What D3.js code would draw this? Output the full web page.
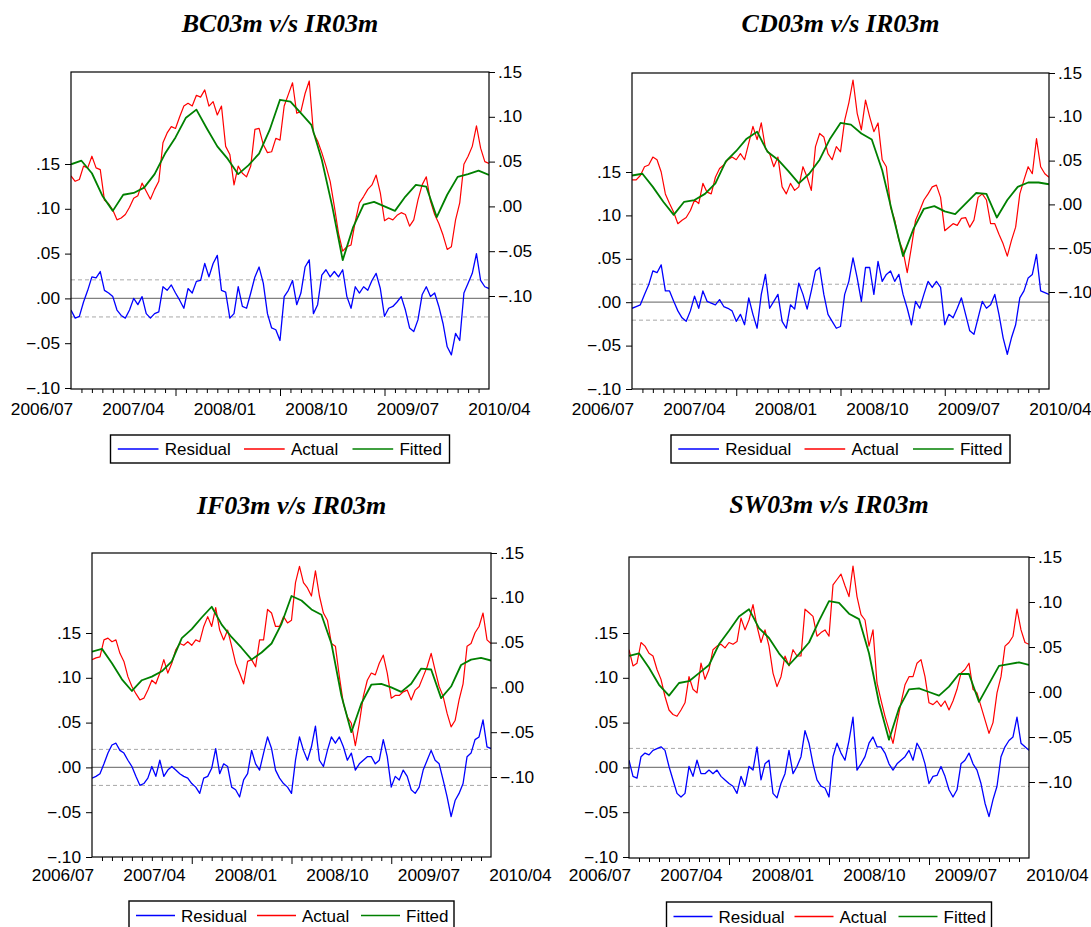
<!DOCTYPE html>
<html>
<head>
<meta charset="utf-8">
<script src="https://cdn.jsdelivr.net/npm/d3@7"></script>
<style>
body { margin: 0; background: #fff; }
svg text { font-family: Arial, "Liberation Sans", sans-serif; fill: #000; }
.title { font-family: "Times New Roman", "Liberation Serif", serif; font-weight: bold; font-style: italic; font-size: 25px; }
.tick text { font-size: 16px; }
.legend text { font-size: 17px; }
</style>
</head>
<body>
<svg id="chart" width="1091" height="927"></svg>
<script>
// ---- data ----
var titles = ["BC03m v/s IR03m", "CD03m v/s IR03m", "IF03m v/s IR03m", "SW03m v/s IR03m"];
var dateLabels = ["2006/07", "2007/04", "2008/01", "2008/10", "2009/07", "2010/04"];
var axisTicks = [-0.10, -0.05, 0.00, 0.05, 0.10, 0.15];
var legendNames = ["Residual", "Actual", "Fitted"];

// residual band (+/- one S.E.)
var sigmas = [0.0207, 0.0207, 0.0201, 0.0212];

var bcActual = [0.034,0.028,0.030,0.045,0.043,0.056,0.043,0.041,0.007,0.003,-0.004,-0.015,-0.013,-0.009,-0.001,0.009,0.012,0.026,0.017,0.008,
  0.019,0.028,0.071,0.082,0.089,0.087,0.100,0.112,0.115,0.112,0.124,0.122,0.130,0.112,0.117,0.102,0.112,0.067,0.058,0.024,
  0.045,0.037,0.033,0.045,0.086,0.087,0.069,0.060,0.061,0.076,0.074,0.112,0.125,0.138,0.104,0.106,0.126,0.140,0.082,0.073,
  0.060,0.045,0.028,0.000,-0.030,-0.050,-0.045,-0.043,-0.017,0.004,0.011,0.019,0.024,0.035,0.015,-0.016,-0.013,-0.015,-0.010,-0.007,
  -0.009,-0.022,-0.015,0.007,0.024,0.033,0.006,-0.009,-0.019,-0.032,-0.048,-0.045,-0.015,0.004,0.047,0.056,0.067,0.090,0.065,0.050,0.048];
var bcFitted = [0.047,0.051,0.037,0.012,-0.005,0.013,0.015,0.021,0.036,0.059,0.077,0.099,0.108,0.087,0.067,0.053,0.036,0.046,0.059,0.085,
  0.119,0.117,0.104,0.091,0.052,0.000,-0.060,-0.023,0.002,0.005,0.000,-0.005,0.011,0.024,0.022,-0.012,0.013,0.033,0.036,0.040,0.035];
var bcResid = [-0.013,-0.022,-0.020,-0.004,0.009,0.024,0.023,0.030,0.009,0.006,0.002,-0.013,-0.019,-0.022,-0.013,0.000,-0.007,0.002,-0.017,-0.022,
  -0.017,-0.015,0.013,0.009,0.015,0.006,-0.002,-0.011,0.011,0.006,0.019,0.020,0.039,0.024,0.039,0.048,0.009,0.007,-0.022,-0.017,
  0.013,-0.009,-0.011,0.006,0.024,0.035,0.017,-0.017,-0.033,-0.035,-0.047,0.002,0.009,0.020,-0.007,0.006,0.035,0.043,-0.017,-0.007,
  0.026,0.032,0.024,0.030,0.024,0.032,0.002,-0.011,0.013,0.006,0.013,0.009,0.020,0.028,0.011,-0.020,-0.011,-0.009,-0.004,0.002,
  -0.013,-0.033,-0.037,-0.024,0.004,0.013,0.002,0.006,-0.009,-0.028,-0.054,-0.063,-0.039,-0.047,0.006,0.017,0.028,0.050,0.020,0.013,0.011];

var cdActual = [0.028,0.028,0.033,0.043,0.045,0.054,0.051,0.037,0.012,0.001,-0.009,-0.022,-0.018,-0.015,-0.007,0.005,0.001,0.024,0.014,0.012,
  0.031,0.041,0.045,0.051,0.054,0.051,0.058,0.051,0.070,0.089,0.074,0.093,0.064,0.058,0.043,0.054,0.020,0.012,0.024,0.016,
  0.020,0.043,0.031,0.016,0.066,0.081,0.077,0.058,0.051,0.066,0.060,0.096,0.116,0.142,0.104,0.085,0.119,0.100,0.083,0.093,
  0.051,0.043,-0.003,-0.018,-0.041,-0.053,-0.078,-0.049,-0.018,-0.007,0.005,0.012,0.020,0.022,0.008,-0.030,-0.026,-0.022,-0.024,-0.016,
  -0.015,-0.026,-0.018,0.008,0.012,0.005,-0.022,-0.022,-0.034,-0.045,-0.059,-0.041,-0.026,0.012,0.028,0.043,0.035,0.075,0.043,0.035,0.031];
var cdFitted = [0.033,0.035,0.020,0.003,-0.012,0.003,0.005,0.012,0.024,0.049,0.061,0.075,0.083,0.060,0.051,0.038,0.024,0.035,0.051,0.075,
  0.093,0.091,0.081,0.074,0.039,-0.011,-0.059,-0.028,-0.005,-0.002,-0.008,-0.011,0.001,0.013,0.012,-0.015,0.005,0.020,0.025,0.025,0.023];
var cdResid = [-0.007,-0.005,-0.003,0.009,0.020,0.036,0.034,0.043,0.013,0.013,0.001,-0.010,-0.018,-0.022,-0.010,0.007,-0.007,0.013,0.001,-0.001,
  -0.003,0.003,-0.005,-0.007,-0.010,-0.022,-0.014,-0.026,0.005,-0.014,-0.030,0.009,0.032,-0.007,0.001,0.009,-0.022,-0.030,-0.003,-0.008,
  0.022,0.009,-0.008,0.013,0.036,0.040,0.009,-0.014,-0.022,-0.030,-0.028,0.009,0.024,0.051,0.028,0.001,0.040,0.040,0.009,0.047,
  0.024,0.032,0.036,0.024,0.032,0.009,-0.007,-0.026,0.001,-0.007,0.009,0.024,0.017,0.024,0.017,-0.026,-0.014,-0.018,-0.007,0.005,
  -0.014,-0.033,-0.037,-0.018,0.001,-0.007,-0.003,0.009,-0.014,-0.041,-0.060,-0.041,-0.026,0.005,0.013,0.028,0.032,0.055,0.013,0.011,0.009];

var ifActual = [0.031,0.033,0.034,0.053,0.055,0.051,0.053,0.038,0.029,0.012,0.001,-0.007,-0.014,-0.012,-0.003,0.008,0.004,0.016,0.031,0.016,
  0.027,0.042,0.049,0.047,0.051,0.047,0.053,0.051,0.068,0.079,0.068,0.089,0.064,0.053,0.064,0.046,0.027,0.016,0.004,0.029,
  0.031,0.023,0.053,0.053,0.087,0.083,0.068,0.068,0.079,0.072,0.075,0.117,0.135,0.117,0.111,0.102,0.130,0.102,0.083,0.075,
  0.049,0.046,0.012,-0.018,-0.033,-0.040,-0.065,-0.040,-0.010,0.008,0.016,0.014,0.027,0.036,0.016,-0.012,-0.009,-0.009,-0.005,-0.003,
  -0.014,-0.003,0.001,0.012,0.023,0.038,0.019,0.001,-0.010,-0.029,-0.044,-0.037,-0.014,0.004,0.046,0.049,0.061,0.068,0.083,0.053,0.049];
var ifFitted = [0.040,0.043,0.027,0.009,-0.004,0.008,0.012,0.018,0.029,0.055,0.065,0.078,0.090,0.070,0.056,0.044,0.031,0.039,0.049,0.071,
  0.102,0.097,0.087,0.081,0.049,-0.009,-0.050,-0.018,0.003,0.004,0.000,-0.005,0.004,0.021,0.020,-0.012,0.001,0.025,0.031,0.033,0.030];
var ifResid = [-0.012,-0.010,-0.007,0.004,0.016,0.025,0.027,0.019,0.016,0.008,0.001,-0.010,-0.020,-0.018,-0.012,0.001,-0.010,0.008,-0.010,-0.003,
  0.001,-0.003,-0.007,-0.010,-0.012,-0.018,-0.022,-0.029,-0.012,-0.010,-0.001,0.021,-0.007,0.004,0.001,-0.022,-0.025,-0.033,-0.014,-0.007,
  0.019,0.004,-0.003,0.016,0.034,0.021,-0.003,-0.012,-0.018,-0.022,-0.029,0.008,0.034,0.019,0.008,0.023,0.046,0.008,0.001,0.019,
  0.034,0.027,0.034,0.023,0.008,0.016,-0.003,0.004,0.008,0.012,0.012,0.004,0.008,0.031,0.012,-0.022,-0.010,-0.014,-0.003,-0.010,
  -0.025,-0.029,-0.022,-0.003,0.008,0.019,0.008,0.004,-0.014,-0.033,-0.055,-0.037,-0.029,-0.018,0.012,0.016,0.031,0.034,0.053,0.023,0.021];

var swActual = [0.047,0.029,0.032,0.055,0.051,0.043,0.040,0.025,0.014,-0.005,-0.020,-0.025,-0.027,-0.020,-0.012,0.017,0.003,-0.001,0.032,0.014,
  0.025,0.047,0.051,0.053,0.049,0.055,0.053,0.056,0.082,0.069,0.080,0.097,0.073,0.055,0.069,0.051,0.021,0.006,0.017,0.040,
  0.029,0.047,0.040,0.040,0.092,0.088,0.084,0.062,0.066,0.069,0.062,0.119,0.125,0.131,0.118,0.106,0.140,0.106,0.086,0.080,
  0.051,0.069,0.010,-0.009,-0.027,-0.042,-0.057,-0.034,-0.012,0.008,0.017,0.017,0.032,0.036,0.017,-0.012,-0.014,-0.010,-0.016,-0.010,
  -0.020,-0.010,0.003,0.021,0.025,0.032,0.003,-0.001,-0.016,-0.031,-0.046,-0.034,-0.001,0.017,0.051,0.055,0.062,0.092,0.069,0.055,0.053];
var swFitted = [0.040,0.043,0.027,0.008,-0.004,0.010,0.012,0.021,0.030,0.053,0.068,0.084,0.092,0.071,0.060,0.043,0.030,0.042,0.055,0.079,
  0.101,0.099,0.087,0.081,0.043,-0.012,-0.053,-0.018,0.003,0.004,0.000,-0.004,0.006,0.020,0.020,-0.011,0.009,0.029,0.031,0.033,0.030];
var swResid = [0.008,-0.010,-0.012,0.012,0.016,0.014,0.019,0.021,0.023,0.019,0.001,-0.014,-0.029,-0.033,-0.029,0.001,-0.010,0.008,-0.007,-0.007,
  -0.003,-0.007,-0.003,-0.010,-0.014,-0.018,-0.021,-0.029,-0.010,-0.021,0.001,-0.003,0.023,-0.014,0.004,0.008,-0.029,-0.034,-0.018,-0.007,
  0.019,-0.007,0.001,0.012,0.041,0.027,0.004,-0.014,-0.021,-0.023,-0.033,0.012,0.027,0.016,0.008,0.030,0.056,-0.003,0.004,0.012,
  0.027,0.034,0.023,0.023,0.016,0.004,-0.003,0.004,0.008,0.012,0.019,0.008,0.027,0.019,0.004,-0.018,-0.010,-0.009,0.001,-0.010,
  -0.025,-0.033,-0.025,0.004,0.008,0.016,0.004,-0.003,-0.018,-0.040,-0.055,-0.036,-0.021,0.012,0.023,0.030,0.034,0.056,0.027,0.023,0.019];

// ---- layout of the four panels (pixel boxes) ----
var panels = [
  { title: titles[0], resid: bcResid, actual: bcActual, fitted: bcFitted, sigma: sigmas[0],
    left: 71, right: 489, top: 72, bottom: 389, lTop: 164, lBot: 388, rTop: 72, rBot: 296,
    titleY: 32, labelY: 415, legY: 435, legH: 28, legW: 339 },
  { title: titles[1], resid: cdResid, actual: cdActual, fitted: cdFitted, sigma: sigmas[1],
    left: 632, right: 1049, top: 73, bottom: 389, lTop: 172, lBot: 389, rTop: 73, rBot: 292,
    titleY: 32, labelY: 415, legY: 435, legH: 28, legW: 339 },
  { title: titles[2], resid: ifResid, actual: ifActual, fitted: ifFitted, sigma: sigmas[2],
    left: 92, right: 491, top: 553, bottom: 857, lTop: 633, lBot: 857, rTop: 553, rBot: 777,
    titleY: 514, labelY: 881, legY: 901, legH: 29, legW: 325 },
  { title: titles[3], resid: swResid, actual: swActual, fitted: swFitted, sigma: sigmas[3],
    left: 629, right: 1029, top: 557, bottom: 858, lTop: 633, lBot: 857, rTop: 557, rBot: 782,
    titleY: 513, labelY: 881, legY: 902, legH: 29, legW: 325 }
];

var colors = d3.scaleOrdinal().domain(legendNames).range(["#0000ff", "#ff0000", "#008000"]);
var widths = { Residual: 1.3, Actual: 1.2, Fitted: 1.8 };

// ".15", "-.10", ".00" like EViews
function fmt(v) { return d3.format(".2f")(v).replace("0.", "."); }

// axis text in the picture is a bit wider than plain Arial
var STRETCH = 1.08;
function stretchText(sel) {
  sel.each(function() {
    var t = d3.select(this);
    var x = +t.attr("x") || 0;
    t.attr("x", x / STRETCH).attr("transform", "scale(" + STRETCH + ",1)");
  });
}

var svg = d3.select("#chart");

function drawPanel(p, idx) {
  var g = svg.append("g");

  var x = d3.scaleLinear().domain([0, 1]).range([p.left, p.right]);
  var yL = d3.scaleLinear().domain([-0.10, 0.15]).range([p.lBot, p.lTop]);
  var yR = d3.scaleLinear().domain([-0.10, 0.15]).range([p.rBot, p.rTop]);
  var xTick = d3.scaleLinear().domain([0, 40]).range([p.left, p.right]);
  // months counted from 2006/07, labels every 9 months
  var xDate = d3.scaleLinear().domain([0, 45]).range([p.left - 29.5, p.left - 29.5 + 457.5]);

  var clipId = "clip" + idx;
  g.append("clipPath").attr("id", clipId)
    .append("rect")
    .attr("x", p.left).attr("y", p.top)
    .attr("width", p.right - p.left).attr("height", p.bottom - p.top);

  // title
  g.append("text")
    .attr("class", "title")
    .attr("text-anchor", "middle")
    .attr("transform", "translate(" + ((p.left + p.right) / 2) + "," + p.titleY + ") scale(1.04,1)")
    .text(p.title);

  var plot = g.append("g").attr("clip-path", "url(#" + clipId + ")");

  // zero line and +/- sigma band
  plot.append("line")
    .attr("x1", p.left).attr("x2", p.right)
    .attr("y1", yL(0)).attr("y2", yL(0))
    .attr("stroke", "#808080").attr("stroke-width", 1.3);
  [p.sigma, -p.sigma].forEach(function(s) {
    plot.append("line")
      .attr("x1", p.left).attr("x2", p.right)
      .attr("y1", yL(s)).attr("y2", yL(s))
      .attr("stroke", "#a8a8a8").attr("stroke-width", 1)
      .attr("stroke-dasharray", "4,3");
  });

  function addLine(values, yScale, name) {
    var n = values.length;
    var line = d3.line()
      .x(function(d, i) { return x(i / (n - 1)); })
      .y(function(d) { return yScale(d); });
    plot.append("path")
      .datum(values)
      .attr("d", line)
      .attr("fill", "none")
      .attr("stroke", colors(name))
      .attr("stroke-width", widths[name])
      .attr("stroke-linejoin", "round");
  }
  addLine(p.resid, yL, "Residual");
  addLine(p.actual, yR, "Actual");
  addLine(p.fitted, yR, "Fitted");

  // frame
  g.append("rect")
    .attr("x", p.left).attr("y", p.top)
    .attr("width", p.right - p.left).attr("height", p.bottom - p.top)
    .attr("fill", "none").attr("stroke", "#000").attr("stroke-width", 1.2);

  // left axis (residual)
  var la = g.append("g")
    .attr("transform", "translate(" + p.left + ",0)")
    .call(d3.axisLeft(yL).tickValues(axisTicks).tickSize(6).tickPadding(5).tickFormat(fmt));
  la.select(".domain").remove();
  la.selectAll("text").call(stretchText);

  // right axis (actual / fitted)
  var ra = g.append("g")
    .attr("transform", "translate(" + p.right + ",0)")
    .call(d3.axisRight(yR).tickValues(axisTicks).tickSize(6).tickPadding(3).tickFormat(fmt));
  ra.select(".domain").remove();
  ra.selectAll("text").call(stretchText);

  // bottom minor / major ticks
  var minor = g.append("g")
    .attr("transform", "translate(0," + p.bottom + ")")
    .call(d3.axisBottom(xTick).tickValues(d3.range(1, 40).filter(function(d) { return d % 10 !== 0; }))
      .tickSize(4).tickFormat(""));
  minor.select(".domain").remove();
  var major = g.append("g")
    .attr("transform", "translate(0," + p.bottom + ")")
    .call(d3.axisBottom(xTick).tickValues([10, 20, 30]).tickSize(7).tickFormat(""));
  major.select(".domain").remove();

  // date labels
  var da = g.append("g")
    .attr("transform", "translate(0," + p.bottom + ")")
    .call(d3.axisBottom(xDate).tickValues([0, 9, 18, 27, 36, 45]).tickSize(0)
      .tickFormat(function(d, i) { return dateLabels[i]; }));
  da.select(".domain").remove();
  da.selectAll("text").attr("y", p.labelY - p.bottom).attr("dy", null).call(stretchText);

  // legend
  var k = p.legW / 325;
  var lx = (p.left + p.right) / 2 - p.legW / 2;
  var leg = g.append("g").attr("class", "legend").attr("transform", "translate(" + lx + "," + p.legY + ")");
  leg.append("rect")
    .attr("width", p.legW).attr("height", p.legH)
    .attr("fill", "#fff").attr("stroke", "#000").attr("stroke-width", 1.4);
  var starts = [7, 128, 232];
  legendNames.forEach(function(name, i) {
    var sx = starts[i] * k;
    leg.append("line")
      .attr("x1", sx).attr("x2", sx + 39 * k)
      .attr("y1", p.legH / 2).attr("y2", p.legH / 2)
      .attr("stroke", colors(name)).attr("stroke-width", 1.3);
    leg.append("text")
      .attr("x", sx + 44 * k + 1)
      .attr("y", p.legH / 2 + 6)
      .text(name);
  });
}

panels.forEach(drawPanel);
</script>
</body>
</html>
